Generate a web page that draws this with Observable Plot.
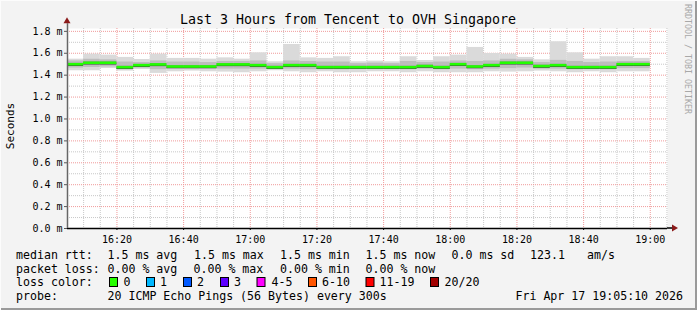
<!DOCTYPE html>
<html><head><meta charset="utf-8">
<script src="https://cdn.jsdelivr.net/npm/d3@7"></script>
<script src="https://cdn.jsdelivr.net/npm/@observablehq/plot@0.6"></script>
<style>
html,body{margin:0;padding:0;background:#f3f3f3;}
#chart{position:relative;width:697px;height:310px;overflow:hidden;background:#f3f3f3;}
#chart svg{display:block;}
</style></head><body><div id="chart"></div>
<script>
const title = "Last 3 Hours from Tencent to OVH Singapore";
const yLabel = "Seconds";
const windowStart = "16:05:10";
const windowEnd = "19:05:10";
const barEnds = ["16:10","16:15","16:20","16:25","16:30","16:35","16:40","16:45","16:50","16:55",
  "17:00","17:05","17:10","17:15","17:20","17:25","17:30","17:35","17:40","17:45",
  "17:50","17:55","18:00","18:05","18:10","18:15","18:20","18:25","18:30","18:35",
  "18:40","18:45","18:50","18:55","19:00"];
// values in ms
const medianRtt = [1.500,1.513,1.513,1.473,1.491,1.498,1.479,1.479,1.479,1.498,
  1.498,1.491,1.473,1.491,1.491,1.473,1.473,1.473,1.473,1.473,
  1.473,1.483,1.473,1.500,1.479,1.491,1.513,1.513,1.483,1.491,
  1.473,1.473,1.473,1.500,1.500];
const maxRtt = [1.546,1.592,1.583,1.562,1.543,1.592,1.553,1.553,1.546,1.558,
  1.546,1.604,1.522,1.680,1.558,1.553,1.568,1.522,1.528,1.522,
  1.568,1.534,1.568,1.583,1.653,1.598,1.592,1.562,1.540,1.705,
  1.604,1.546,1.568,1.568,1.553];
const minRtt = [1.440,1.440,1.461,1.437,1.452,1.416,1.431,1.437,1.431,1.428,
  1.422,1.431,1.440,1.431,1.422,1.431,1.422,1.422,1.431,1.431,
  1.422,1.431,1.422,1.422,1.422,1.431,1.428,1.431,1.437,1.431,
  1.422,1.431,1.422,1.431,1.431];
const upperRtt = [1.530,1.545,1.540,1.520,1.515,1.530,1.520,1.520,1.515,1.525,
  1.525,1.530,1.505,1.530,1.525,1.520,1.520,1.505,1.510,1.505,
  1.525,1.515,1.520,1.530,1.525,1.530,1.545,1.540,1.515,1.535,
  1.525,1.515,1.520,1.525,1.525];
const lowerRtt = [1.465,1.470,1.475,1.450,1.465,1.450,1.455,1.455,1.455,1.455,
  1.455,1.455,1.455,1.455,1.450,1.450,1.450,1.455,1.455,1.455,
  1.450,1.455,1.450,1.455,1.450,1.455,1.460,1.465,1.455,1.455,
  1.450,1.455,1.450,1.460,1.460];
const xTickLabels = ["16:20","16:40","17:00","17:20","17:40","18:00","18:20","18:40","19:00"];
const yMajor = [0,0.2,0.4,0.6,0.8,1.0,1.2,1.4,1.6,1.8];
const yMinor = [0.1,0.3,0.5,0.7,0.9,1.1,1.3,1.5,1.7];
const lossLabels = ["0","1","2","3","4-5","6-10","11-19","20/20"];
const lossColors = ["#26ff00","#00b8ff","#0059ff","#5e00ff","#ff00ff","#ff5500","#ff0000","#a10000"];
const legendRtt = ["1.5 ms avg","1.5 ms max","1.5 ms min","1.5 ms now","0.0 ms sd","123.1","am/s"];
const legendLoss = ["0.00 % avg","0.00 % max","0.00 % min","0.00 % now"];
const probeText = "20 ICMP Echo Pings (56 Bytes) every 300s";
const stampText = "Fri Apr 17 19:05:10 2026";

const t = s => { const [h,m,sec=0] = s.split(":").map(Number); return new Date(Date.UTC(2026,3,17,h,m,sec)); };
const data = barEnds.map((e,i) => ({
  start: new Date(+t(e) - 300000), end: t(e),
  min: minRtt[i], lo: lowerRtt[i], med: medianRtt[i], hi: upperRtt[i], max: maxRtt[i]
}));
const majorX = xTickLabels.map(t);
const minorX = barEnds.concat(["19:05"]).filter(s => !xTickLabels.includes(s)).map(t);
const mono = "DejaVu Sans Mono";

const plot = Plot.plot({
  width: 697, height: 310,
  marginLeft: 67, marginRight: 30, marginTop: 28, marginBottom: 82,
  style: {background: "#f3f3f3", fontFamily: mono, color: "#000"},
  x: {type: "utc", domain: [t(windowStart), t(windowEnd)]},
  y: {domain: [0, 1.826]},
  marks: [
    Plot.frame({fill: "white", stroke: null}),
    Plot.ruleY(yMinor, {stroke: "#c8c8c8", strokeDasharray: "1,1"}),
    Plot.ruleX(minorX, {stroke: "#c8c8c8", strokeDasharray: "1,1"}),
    Plot.ruleY(yMajor.filter(v => v > 0), {stroke: "#f09a9a", strokeDasharray: "1,1"}),
    Plot.ruleX(majorX, {stroke: "#f09a9a", strokeDasharray: "1,1"}),
    Plot.rect(data, {x1: "start", x2: "end", y1: "min", y2: "max", fill: "#dadada", clip: true}),
    Plot.rect(data, {x1: "start", x2: "end", y1: "lo", y2: "hi", fill: "#bdbdbd", clip: true}),
    Plot.rect(data, {x1: "start", x2: "end", y1: d => d.med - 0.016, y2: d => d.med + 0.008, fill: "#8c8c8c", clip: true}),
    Plot.ruleY(data, {x1: "start", x2: "end", y: d => d.med - 0.011, stroke: "#3a3a3a", strokeWidth: 1, clip: true}),
    Plot.ruleY(data, {x1: "start", x2: "end", y: "med", stroke: "#22ff00", strokeWidth: 2.6, clip: true}),
    Plot.axisY(yMajor, {tickFormat: d => d.toFixed(1) + " m", tickSize: 3, tickPadding: 2, fontSize: 10, fontFamily: mono, stroke: "#555", label: null}),
    Plot.axisX(majorX, {tickFormat: d3.utcFormat("%H:%M"), tickSize: 2, tickPadding: 5, fontSize: 10, fontFamily: mono, label: null}),
    Plot.ruleY([0], {stroke: "#000", strokeWidth: 1.5}),
    Plot.ruleX([t(windowStart)], {y1: 0, y2: 1.87, stroke: "#666", strokeWidth: 1.5})
  ]
});
document.getElementById("chart").appendChild(plot);

const svg = d3.select(plot);
const xs = plot.scale("x"), ys = plot.scale("y");
const x0 = xs.apply(t(windowStart)), y0 = ys.apply(0);
// axis arrows
svg.append("path").attr("d", `M${x0-3.5},${ys.apply(1.87)} L${x0+3.5},${ys.apply(1.87)} L${x0},${ys.apply(1.87)-6} Z`).attr("fill", "#8b1a1a");
const xe = xs.apply(t(windowEnd));
svg.append("line").attr("x1", xe).attr("x2", xe + 5).attr("y1", y0).attr("y2", y0).attr("stroke", "#000").attr("stroke-width", 1.5);
svg.append("path").attr("d", `M${xe+5},${y0-3.5} L${xe+5},${y0+3.5} L${xe+11},${y0} Z`).attr("fill", "#8b1a1a");

const txt = (x, y, s, opts = {}) => svg.append("text").attr("x", x).attr("y", y)
  .attr("font-family", mono).attr("font-size", opts.size || 11.6).attr("fill", opts.fill || "#000")
  .attr("text-anchor", opts.anchor || "start").attr("xml:space", "preserve").text(s);

txt(348, 23.5, title, {size: 13.3, anchor: "middle"});
svg.append("text").attr("transform", "translate(14,126) rotate(-90)").attr("text-anchor", "middle")
  .attr("font-family", mono).attr("font-size", 11).attr("fill", "#000").text(yLabel);
svg.append("text").attr("transform", "translate(685,4) rotate(90)").attr("text-anchor", "start")
  .attr("font-family", mono).attr("font-size", 8.3).attr("fill", "#a8a8a8").text("RRDTOOL / TOBI OETIKER");

const L1 = 259, L2 = 272.5, L3 = 286, L4 = 300;
txt(16, L1, "median rtt:");
const rttX = [107.5, 194, 280, 365.5, 451.5, 530, 587];
legendRtt.forEach((s, i) => txt(rttX[i], L1, s));
txt(16, L2, "packet loss:");
const lossX = [107.5, 193.5, 280, 365.5];
legendLoss.forEach((s, i) => txt(lossX[i], L2, s));
txt(16, L3, "loss color:");
const boxX = [109, 146, 183, 220, 256.5, 308, 365.5, 430];
const labX = [123.5, 160, 197, 234, 271.5, 322, 379.5, 444.5];
lossLabels.forEach((s, i) => {
  svg.append("rect").attr("x", boxX[i] + 0.5).attr("y", L3 - 8.5).attr("width", 8).attr("height", 9)
    .attr("fill", lossColors[i]).attr("stroke", "#000").attr("stroke-width", 1);
  txt(labX[i], L3, s);
});
txt(16, L4, "probe:");
txt(107.5, L4, probeText);
txt(683, L4, stampText, {anchor: "end"});
// outer border
svg.append("line").attr("x1", 696).attr("x2", 696).attr("y1", 0).attr("y2", 310).attr("stroke", "#9a9a9a").attr("stroke-width", 2);
svg.append("line").attr("x1", 0).attr("x2", 697).attr("y1", 309).attr("y2", 309).attr("stroke", "#9a9a9a").attr("stroke-width", 2);
svg.append("line").attr("x1", 0.5).attr("x2", 0.5).attr("y1", 0).attr("y2", 310).attr("stroke", "#fcfcfc").attr("stroke-width", 1);
svg.append("line").attr("x1", 0).attr("x2", 697).attr("y1", 0.5).attr("y2", 0.5).attr("stroke", "#fcfcfc").attr("stroke-width", 1);
</script></body></html>
